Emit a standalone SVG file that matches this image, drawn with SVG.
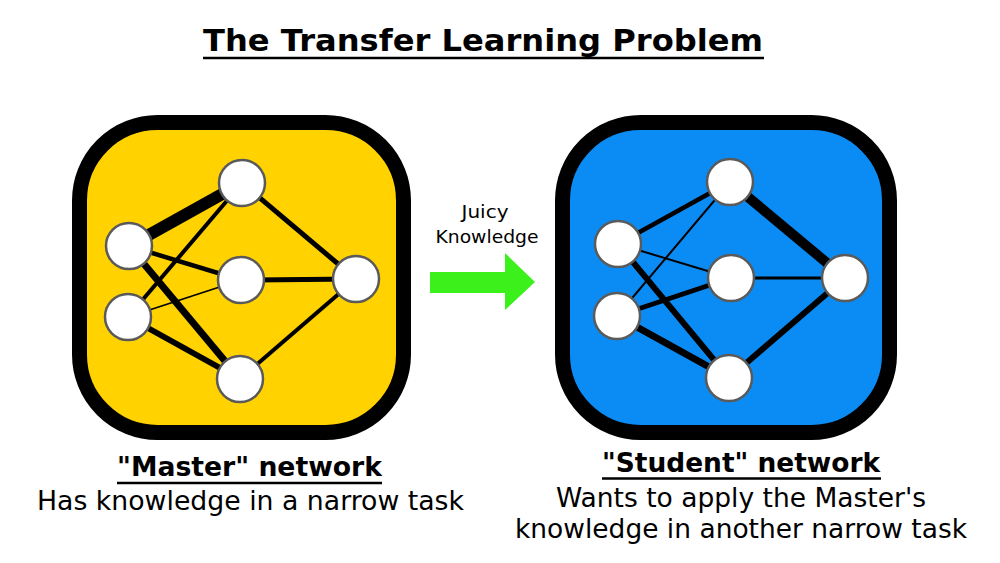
<svg xmlns="http://www.w3.org/2000/svg" width="1000" height="563" viewBox="0 0 1000 563">
<style>
.frame{stroke:#000;stroke-width:15}
.n{fill:#fff;stroke:#5a5a5a;stroke-width:2.5}
.e{stroke:#000;stroke-linecap:butt}
.t{font-family:"DejaVu Sans","Liberation Sans",sans-serif;fill:#000}
.b{font-weight:bold}
.u{stroke:#000;stroke-width:2.5}
</style>
<rect width="1000" height="563" fill="#fff"/>
<g id="title">
<text class="t b" x="203" y="51" font-size="31" textLength="560" lengthAdjust="spacingAndGlyphs">The Transfer Learning Problem</text>
<line class="u" x1="203" y1="58" x2="764" y2="58" stroke-width="2.5"/>
</g>
<g id="master-box"><rect class="frame" x="79.5" y="122.5" width="324" height="310" rx="78" fill="#ffd200"/></g>
<g id="student-box"><rect class="frame" x="562.5" y="122.5" width="327" height="310" rx="78" fill="#0b8cf5"/></g>
<g id="connectors">
<line class="e" x1="129" y1="246" x2="242" y2="183" stroke-width="12"/>
<line class="e" x1="129" y1="246" x2="241" y2="280" stroke-width="4.5"/>
<line class="e" x1="129" y1="246" x2="240" y2="379" stroke-width="7"/>
<line class="e" x1="128" y1="317" x2="242" y2="183" stroke-width="4"/>
<line class="e" x1="128" y1="317" x2="241" y2="280" stroke-width="1.8"/>
<line class="e" x1="128" y1="317" x2="240" y2="379" stroke-width="6"/>
<line class="e" x1="242" y1="183" x2="356" y2="279" stroke-width="5"/>
<line class="e" x1="241" y1="280" x2="356" y2="279" stroke-width="5"/>
<line class="e" x1="240" y1="379" x2="356" y2="279" stroke-width="4"/>
<line class="e" x1="618" y1="244" x2="730" y2="182" stroke-width="4.5"/>
<line class="e" x1="618" y1="244" x2="731" y2="278" stroke-width="2"/>
<line class="e" x1="618" y1="244" x2="729" y2="378" stroke-width="6"/>
<line class="e" x1="617" y1="316" x2="730" y2="182" stroke-width="2"/>
<line class="e" x1="617" y1="316" x2="731" y2="278" stroke-width="5"/>
<line class="e" x1="617" y1="316" x2="729" y2="378" stroke-width="7"/>
<line class="e" x1="730" y1="182" x2="845" y2="278" stroke-width="10"/>
<line class="e" x1="731" y1="278" x2="845" y2="278" stroke-width="3"/>
<line class="e" x1="729" y1="378" x2="845" y2="278" stroke-width="6"/>
<polygon id="transfer-arrow" points="430,272 505,272 505,253 535,282 505,310 505,293 430,293" fill="#3cf01c"/>
</g>
<g id="m-in1"><circle class="n" cx="129" cy="246" r="23"/></g>
<g id="m-in2"><circle class="n" cx="128" cy="317" r="23"/></g>
<g id="m-h1"><circle class="n" cx="242" cy="183" r="23"/></g>
<g id="m-h2"><circle class="n" cx="241" cy="280" r="23"/></g>
<g id="m-h3"><circle class="n" cx="240" cy="379" r="23"/></g>
<g id="m-out"><circle class="n" cx="356" cy="279" r="23"/></g>
<g id="s-in1"><circle class="n" cx="618" cy="244" r="23"/></g>
<g id="s-in2"><circle class="n" cx="617" cy="316" r="23"/></g>
<g id="s-h1"><circle class="n" cx="730" cy="182" r="23"/></g>
<g id="s-h2"><circle class="n" cx="731" cy="278" r="23"/></g>
<g id="s-h3"><circle class="n" cx="729" cy="378" r="23"/></g>
<g id="s-out"><circle class="n" cx="845" cy="278" r="23"/></g>
<g id="arrow-label">
<text class="t" x="485" y="218" font-size="18" text-anchor="middle" textLength="47" lengthAdjust="spacingAndGlyphs">Juicy</text>
<text class="t" x="487" y="243" font-size="18" text-anchor="middle" textLength="103" lengthAdjust="spacingAndGlyphs">Knowledge</text>
</g>
<g id="master-label">
<text class="t b" x="249.5" y="476" font-size="26" text-anchor="middle" textLength="265" lengthAdjust="spacingAndGlyphs">"Master" network</text>
<line class="u" x1="117" y1="483" x2="382" y2="483"/>
<text class="t" x="250.5" y="510" font-size="26" text-anchor="middle" textLength="427" lengthAdjust="spacingAndGlyphs">Has knowledge in a narrow task</text>
</g>
<g id="student-label">
<text class="t b" x="741" y="472" font-size="26" text-anchor="middle" textLength="278" lengthAdjust="spacingAndGlyphs">"Student" network</text>
<line class="u" x1="602" y1="478.5" x2="881" y2="478.5"/>
<text class="t" x="741" y="507" font-size="26" text-anchor="middle" textLength="370" lengthAdjust="spacingAndGlyphs">Wants to apply the Master's</text>
<text class="t" x="741" y="538" font-size="26" text-anchor="middle" textLength="452" lengthAdjust="spacingAndGlyphs">knowledge in another narrow task</text>
</g>
</svg>
